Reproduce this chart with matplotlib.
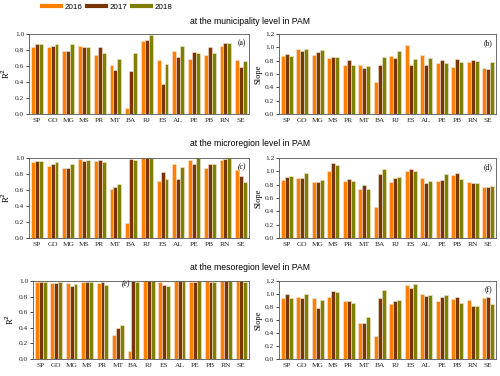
import numpy as np
import matplotlib.pyplot as plt
from matplotlib.lines import Line2D

states = ['SP', 'GO', 'MG', 'MS', 'PR', 'MT', 'BA', 'RJ', 'ES', 'AL', 'PE', 'PB', 'RN', 'SE']
years = ['2016', '2017', '2018']
colors = ['#ff8000', '#7a3506', '#808000']

# municipality level
r2_mun_2016 = [0.84, 0.84, 0.78, 0.85, 0.74, 0.61, 0.08, 0.91, 0.67, 0.79, 0.68, 0.74, 0.85, 0.67]
r2_mun_2017 = [0.87, 0.85, 0.79, 0.83, 0.84, 0.55, 0.54, 0.92, 0.37, 0.71, 0.77, 0.84, 0.89, 0.58]
r2_mun_2018 = [0.87, 0.87, 0.87, 0.84, 0.76, 0.68, 0.76, 0.98, 0.62, 0.85, 0.76, 0.76, 0.89, 0.66]
slope_mun_2016 = [0.87, 0.97, 0.89, 0.84, 0.74, 0.74, 0.48, 0.87, 1.03, 0.88, 0.76, 0.71, 0.78, 0.69]
slope_mun_2017 = [0.90, 0.94, 0.93, 0.86, 0.81, 0.69, 0.74, 0.84, 0.74, 0.74, 0.81, 0.82, 0.81, 0.68]
slope_mun_2018 = [0.87, 0.98, 0.96, 0.86, 0.74, 0.72, 0.86, 0.95, 0.82, 0.84, 0.76, 0.78, 0.80, 0.78]

# microregion level
r2_mic_2016 = [0.95, 0.90, 0.87, 0.99, 0.96, 0.61, 0.19, 1.00, 0.71, 0.92, 0.98, 0.87, 0.98, 0.85]
r2_mic_2017 = [0.96, 0.93, 0.88, 0.96, 0.98, 0.64, 0.99, 1.00, 0.83, 0.74, 0.93, 0.93, 0.99, 0.77]
r2_mic_2018 = [0.96, 0.95, 0.92, 0.97, 0.95, 0.67, 0.98, 1.00, 0.74, 0.89, 1.00, 0.92, 1.00, 0.70]
slope_mic_2016 = [0.87, 0.90, 0.84, 1.01, 0.86, 0.74, 0.47, 0.84, 1.01, 0.90, 0.86, 0.95, 0.84, 0.76]
slope_mic_2017 = [0.92, 0.90, 0.84, 1.13, 0.89, 0.79, 0.96, 0.90, 1.04, 0.83, 0.87, 0.97, 0.83, 0.77]
slope_mic_2018 = [0.93, 0.97, 0.87, 1.10, 0.86, 0.73, 1.04, 0.91, 1.01, 0.86, 0.96, 0.89, 0.83, 0.78]

# mesoregion level
r2_mes_2016 = [0.99, 0.97, 0.97, 0.99, 0.97, 0.31, 0.10, 1.00, 0.98, 1.00, 0.99, 1.00, 1.00, 1.00]
r2_mes_2017 = [0.99, 0.97, 0.93, 0.98, 0.98, 0.40, 1.00, 1.00, 0.95, 1.00, 0.99, 0.99, 1.00, 1.00]
r2_mes_2018 = [0.99, 0.99, 0.96, 0.99, 0.95, 0.43, 0.99, 1.00, 0.94, 1.00, 1.00, 0.99, 1.00, 0.99]
slope_mes_2016 = [0.93, 0.95, 0.93, 0.95, 0.89, 0.56, 0.35, 0.85, 1.13, 1.00, 0.89, 0.92, 0.91, 0.93]
slope_mes_2017 = [1.00, 0.94, 0.78, 1.04, 0.89, 0.55, 0.93, 0.89, 1.09, 0.97, 0.95, 0.96, 0.82, 0.95]
slope_mes_2018 = [0.94, 1.00, 0.91, 1.03, 0.86, 0.64, 1.06, 0.91, 1.15, 0.99, 0.98, 0.86, 0.82, 0.84]

serif = 'Liberation Serif'
sans = 'Liberation Sans'

fig = plt.figure(figsize=(5, 3.76), dpi=100)

panels = [
    (r2_mun_2016, r2_mun_2017, r2_mun_2018, 'R$^2$', 1.0, '(a)', [0.058, 0.697, 0.44, 0.213]),
    (slope_mun_2016, slope_mun_2017, slope_mun_2018, 'Slope', 1.2, '(b)', [0.558, 0.697, 0.434, 0.213]),
    (r2_mic_2016, r2_mic_2017, r2_mic_2018, 'R$^2$', 1.0, '(c)', [0.058, 0.367, 0.44, 0.213]),
    (slope_mic_2016, slope_mic_2017, slope_mic_2018, 'Slope', 1.2, '(d)', [0.558, 0.367, 0.434, 0.213]),
    (r2_mes_2016, r2_mes_2017, r2_mes_2018, 'R$^2$', 1.0, '(e)', [0.066, 0.045, 0.432, 0.208]),
    (slope_mes_2016, slope_mes_2017, slope_mes_2018, 'Slope', 1.2, '(f)', [0.558, 0.045, 0.434, 0.208]),
]

x = np.arange(len(states))
w = 0.25
for v16, v17, v18, ylab, ymax, tag, pos in panels:
    ax = fig.add_axes(pos)
    for i, vals in enumerate([v16, v17, v18]):
        ax.bar(x + (i - 1) * w, vals, w, color=colors[i], edgecolor='#f4e6d6', linewidth=0.4)
    ax.set_xlim(-0.5, len(states) - 0.5)
    ax.set_ylim(0, ymax)
    ticks = np.arange(0, ymax + 0.01, 0.2)
    ax.set_yticks(ticks)
    ax.set_yticklabels([f'{t:.1f}' for t in ticks])
    ax.set_xticks(x)
    ax.set_xticklabels(states)
    ax.tick_params(axis='x', length=0, pad=3)
    ax.tick_params(axis='y', length=2, width=0.5, pad=1.5)
    for lab in ax.get_xticklabels() + ax.get_yticklabels():
        lab.set_fontfamily(serif)
        lab.set_fontsize(5.3)
        lab.set_color('#222222')
    for s in ax.spines.values():
        s.set_linewidth(0.6)
        s.set_color('#555555')
    ax.set_ylabel(ylab, fontfamily=serif, fontsize=6, labelpad=2)
    if tag == '(e)':
        ax.text(5.5, 0.96, tag, fontfamily=serif, fontsize=5.5, style='italic', ha='center', va='center')
    else:
        ax.text(0.985, 0.93, tag, transform=ax.transAxes, fontfamily=serif, fontsize=5.5,
                style='italic' if tag == '(c)' else 'normal', ha='right', va='top')

fig.text(0.5, 1 - 21 / 376, 'at the municipality level in PAM', fontfamily=sans, fontsize=6.2, ha='center', va='center')
fig.text(0.5, 1 - 144 / 376, 'at the microregion level in PAM', fontfamily=sans, fontsize=6.2, ha='center', va='center')
fig.text(0.5, 1 - 267 / 376, 'at the mesoregion level in PAM', fontfamily=sans, fontsize=6.2, ha='center', va='center')

handles = [Line2D([0], [0], color=c, lw=3) for c in colors]
fig.legend(handles, years, loc='center', bbox_to_anchor=(0.215, 1 - 7 / 376), ncol=3, frameon=False,
           prop={'family': sans, 'size': 5.8}, handlelength=2.3, handletextpad=0.5, columnspacing=0.6,
           borderaxespad=0, borderpad=0)

fig.savefig('out.png', dpi=100)
